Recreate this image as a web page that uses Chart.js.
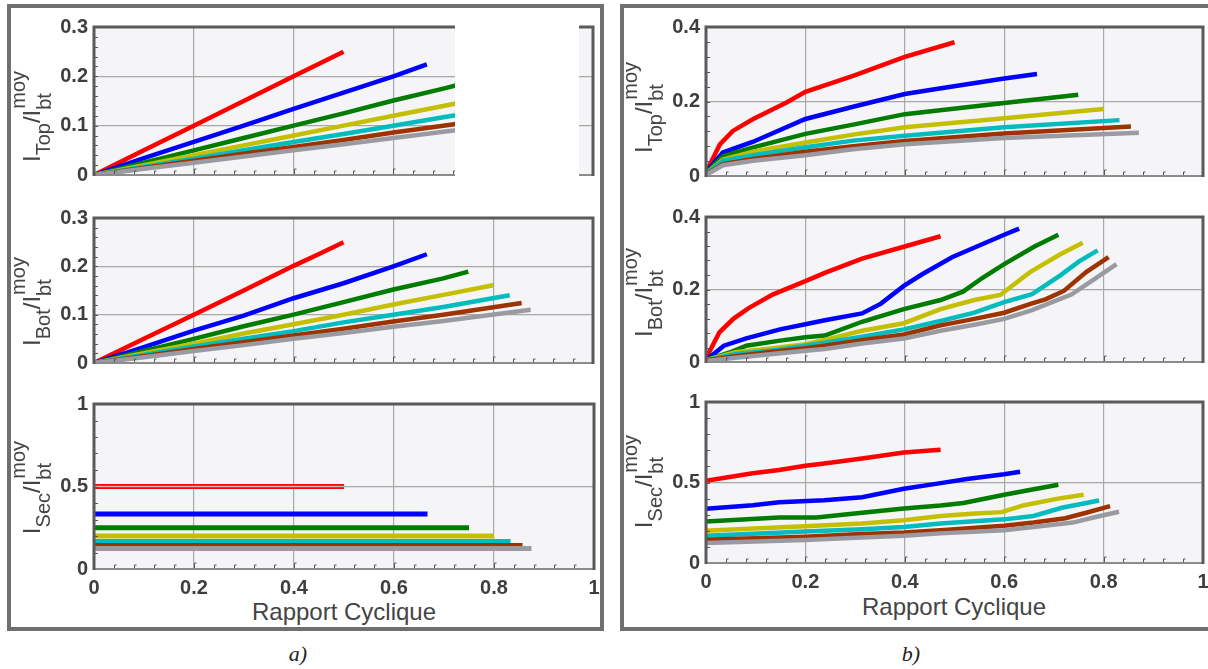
<!DOCTYPE html>
<html><head><meta charset="utf-8">
<script src="https://cdn.jsdelivr.net/npm/chart.js@4.4.1/dist/chart.umd.min.js"></script>
<style>
html,body{margin:0;padding:0;background:#fff;}
#page{position:relative;width:1208px;height:669px;overflow:hidden;background:#fff;}
canvas{position:absolute;}
.frame{position:absolute;border:4px solid #6f6f6f;box-sizing:border-box;}
.xt{position:absolute;font-family:'Liberation Sans',Arial,sans-serif;font-size:24px;color:#444;white-space:nowrap;transform:translateX(-50%);line-height:28px;}
.cap{position:absolute;font-family:'Liberation Serif','Times New Roman',serif;font-style:italic;font-size:22px;color:#222;transform:translateX(-50%);line-height:26px;}
</style></head>
<body><div id="page">
<div class="frame" style="left:7px;top:4px;width:597px;height:627px"></div>
<div class="frame" style="left:620px;top:4px;width:620px;height:627px"></div>
<div class="xt" style="left:344px;top:598px">Rapport Cyclique</div>
<div class="xt" style="left:954px;top:593px">Rapport Cyclique</div>
<div class="cap" style="left:298px;top:641px">a)</div>
<div class="cap" style="left:911px;top:641px">b)</div>
</div>
<script>
// ---------- axis ticks ----------
const xTicks = [0, 0.2, 0.4, 0.6, 0.8, 1];
const yTicksTop = [0, 0.1, 0.2, 0.3];
const yTicksB = [0, 0.2, 0.4];
const yTicksSec = [0, 0.5, 1];

// ---------- a) I_Top ----------
const aTop_red    = [[0,0],[0.1,0.05],[0.2,0.1],[0.3,0.15],[0.4,0.2],[0.5,0.25]];
const aTop_blue   = [[0,0],[0.1,0.034],[0.2,0.067],[0.3,0.1],[0.4,0.134],[0.5,0.167],[0.6,0.2],[0.667,0.224]];
const aTop_green  = [[0,0],[0.1,0.025],[0.2,0.05],[0.3,0.075],[0.4,0.1],[0.5,0.125],[0.6,0.151],[0.7,0.175],[0.75,0.188]];
const aTop_yellow = [[0,0],[0.1,0.02],[0.2,0.04],[0.3,0.06],[0.4,0.08],[0.5,0.1],[0.6,0.12],[0.7,0.14],[0.8,0.16]];
const aTop_cyan   = [[0,0],[0.1,0.017],[0.2,0.033],[0.3,0.05],[0.4,0.067],[0.5,0.083],[0.6,0.1],[0.7,0.117],[0.833,0.139]];
const aTop_brown  = [[0,0],[0.1,0.014],[0.2,0.029],[0.3,0.043],[0.4,0.057],[0.5,0.071],[0.6,0.086],[0.7,0.1],[0.857,0.122]];
const aTop_gray   = [[0,0],[0.1,0.0125],[0.2,0.025],[0.3,0.0375],[0.4,0.05],[0.5,0.0625],[0.6,0.075],[0.7,0.0875],[0.875,0.109]];

// ---------- a) I_Bot ----------
const aBot_red    = [[0,0],[0.1,0.05],[0.2,0.1],[0.3,0.15],[0.4,0.201],[0.45,0.225],[0.5,0.25]];
const aBot_blue   = [[0,0],[0.1,0.033],[0.2,0.067],[0.3,0.098],[0.4,0.134],[0.5,0.165],[0.6,0.2],[0.667,0.225]];
const aBot_green  = [[0,0],[0.1,0.025],[0.2,0.05],[0.3,0.076],[0.4,0.1],[0.5,0.126],[0.6,0.152],[0.7,0.175],[0.75,0.189]];
const aBot_yellow = [[0,0],[0.1,0.02],[0.2,0.04],[0.3,0.061],[0.4,0.08],[0.5,0.1],[0.6,0.121],[0.7,0.141],[0.8,0.161]];
const aBot_cyan   = [[0,0],[0.1,0.017],[0.2,0.034],[0.3,0.05],[0.4,0.066],[0.5,0.084],[0.6,0.1],[0.7,0.116],[0.833,0.14]];
const aBot_brown  = [[0,0],[0.1,0.014],[0.2,0.029],[0.3,0.043],[0.4,0.057],[0.5,0.071],[0.6,0.086],[0.7,0.1],[0.857,0.124]];
const aBot_gray   = [[0,0],[0.1,0.012],[0.2,0.025],[0.3,0.037],[0.4,0.05],[0.5,0.062],[0.6,0.075],[0.7,0.087],[0.875,0.11]];

// ---------- a) I_Sec ----------
const aSec_red    = [[0,0.5],[0.5,0.5]];
const aSec_blue   = [[0,0.333],[0.667,0.333]];
const aSec_green  = [[0,0.25],[0.75,0.25]];
const aSec_yellow = [[0,0.2],[0.8,0.2]];
const aSec_cyan   = [[0,0.167],[0.833,0.167]];
const aSec_brown  = [[0,0.143],[0.857,0.143]];
const aSec_gray   = [[0,0.125],[0.875,0.125]];

// ---------- b) I_Top ----------
const bTop_red    = [[0,0.01],[0.028,0.085],[0.054,0.121],[0.095,0.153],[0.163,0.198],[0.2,0.226],[0.296,0.269],[0.4,0.32],[0.5,0.359]];
const bTop_blue   = [[0,0.01],[0.034,0.063],[0.095,0.092],[0.2,0.153],[0.296,0.186],[0.4,0.22],[0.457,0.232],[0.6,0.262],[0.666,0.274]];
const bTop_green  = [[0,0.008],[0.034,0.053],[0.095,0.077],[0.2,0.113],[0.296,0.138],[0.4,0.166],[0.6,0.196],[0.749,0.218]];
const bTop_yellow = [[0,0.006],[0.034,0.044],[0.095,0.065],[0.2,0.09],[0.296,0.111],[0.4,0.131],[0.6,0.155],[0.8,0.18]];
const bTop_cyan   = [[0,0.005],[0.034,0.041],[0.095,0.056],[0.2,0.077],[0.296,0.095],[0.4,0.108],[0.6,0.131],[0.832,0.15]];
const bTop_brown  = [[0,0.004],[0.034,0.032],[0.095,0.046],[0.2,0.065],[0.296,0.08],[0.4,0.094],[0.6,0.114],[0.855,0.133]];
const bTop_gray   = [[0,0.003],[0.034,0.029],[0.095,0.041],[0.2,0.056],[0.296,0.072],[0.4,0.085],[0.6,0.102],[0.871,0.116]];

// ---------- b) I_Bot ----------
const bBot_red    = [[0,0.01],[0.027,0.082],[0.055,0.119],[0.085,0.148],[0.134,0.186],[0.2,0.223],[0.239,0.246],[0.314,0.285],[0.398,0.318],[0.472,0.347]];
const bBot_blue   = [[0,0.005],[0.036,0.045],[0.081,0.065],[0.149,0.09],[0.2,0.104],[0.239,0.115],[0.314,0.134],[0.352,0.161],[0.398,0.21],[0.435,0.242],[0.495,0.289],[0.6,0.351],[0.63,0.368]];
const bBot_green  = [[0,0.005],[0.051,0.028],[0.081,0.045],[0.149,0.059],[0.2,0.068],[0.239,0.073],[0.314,0.111],[0.398,0.146],[0.472,0.171],[0.517,0.194],[0.555,0.231],[0.6,0.27],[0.66,0.318],[0.709,0.351]];
const bBot_yellow = [[0,0.005],[0.059,0.027],[0.134,0.038],[0.2,0.049],[0.239,0.061],[0.314,0.086],[0.398,0.107],[0.472,0.146],[0.54,0.171],[0.592,0.185],[0.652,0.248],[0.713,0.297],[0.758,0.329]];
const bBot_cyan   = [[0,0.005],[0.059,0.022],[0.134,0.032],[0.2,0.045],[0.239,0.053],[0.314,0.07],[0.398,0.09],[0.472,0.113],[0.54,0.136],[0.6,0.165],[0.656,0.187],[0.713,0.239],[0.75,0.277],[0.788,0.308]];
const bBot_brown  = [[0,0.005],[0.059,0.016],[0.134,0.028],[0.2,0.038],[0.239,0.045],[0.314,0.06],[0.398,0.076],[0.472,0.101],[0.54,0.119],[0.6,0.136],[0.656,0.162],[0.683,0.173],[0.72,0.196],[0.765,0.248],[0.81,0.289]];
const bBot_gray   = [[0,0.003],[0.059,0.012],[0.134,0.022],[0.2,0.031],[0.239,0.036],[0.314,0.051],[0.398,0.065],[0.472,0.086],[0.54,0.103],[0.6,0.119],[0.656,0.143],[0.735,0.186],[0.78,0.227],[0.826,0.27]];

// ---------- b) I_Sec ----------
const bSec_red    = [[0,0.51],[0.094,0.557],[0.147,0.578],[0.2,0.604],[0.238,0.618],[0.314,0.649],[0.398,0.686],[0.472,0.704]];
const bSec_blue   = [[0,0.337],[0.094,0.359],[0.147,0.378],[0.238,0.39],[0.314,0.408],[0.398,0.461],[0.472,0.496],[0.525,0.522],[0.6,0.551],[0.632,0.567]];
const bSec_green  = [[0,0.257],[0.147,0.282],[0.222,0.282],[0.314,0.312],[0.398,0.339],[0.472,0.357],[0.518,0.373],[0.6,0.424],[0.654,0.455],[0.709,0.486]];
const bSec_yellow = [[0,0.2],[0.096,0.214],[0.2,0.229],[0.314,0.245],[0.398,0.265],[0.472,0.292],[0.542,0.308],[0.595,0.316],[0.64,0.359],[0.708,0.4],[0.76,0.424]];
const bSec_cyan   = [[0,0.169],[0.2,0.196],[0.314,0.21],[0.398,0.224],[0.472,0.245],[0.6,0.271],[0.659,0.292],[0.716,0.343],[0.791,0.388]];
const bSec_brown  = [[0,0.145],[0.2,0.163],[0.314,0.18],[0.398,0.19],[0.472,0.204],[0.6,0.231],[0.659,0.251],[0.723,0.278],[0.765,0.312],[0.813,0.353]];
const bSec_gray   = [[0,0.124],[0.2,0.143],[0.314,0.159],[0.398,0.169],[0.472,0.184],[0.6,0.204],[0.659,0.224],[0.738,0.251],[0.784,0.286],[0.831,0.318]];

// ---------- styling ----------
const COLORS = ['#ff0000','#0000ff','#007c00','#c4bf00','#00bcbc','#9c3300','#9a9aa2'];
const TICKFONT = {family:"'Liberation Sans', Arial, sans-serif", size:20, weight:'bold'};
const TICKCOLOR = '#3e3e3e';
const page = document.getElementById('page');
const fmt = v => String(Math.round(v*10)/10);

function drawYLabel(ctx, sub, bx, cy) {
  const big = "24px 'Liberation Sans', Arial, sans-serif";
  const small = "20px 'Liberation Sans', Arial, sans-serif";
  ctx.save();
  ctx.fillStyle = '#444';
  ctx.textBaseline = 'alphabetic';
  ctx.textAlign = 'left';
  ctx.font = big; const wI = ctx.measureText('I').width; const wSl = ctx.measureText('/I').width;
  ctx.font = small; const wSub = ctx.measureText(sub).width; const wMoy = ctx.measureText('moy').width; const wBt = ctx.measureText('bt').width;
  const total = wI + wSub + wSl + Math.max(wMoy, wBt);
  ctx.translate(bx, cy);
  ctx.rotate(-Math.PI/2);
  let x = -total/2;
  ctx.font = big; ctx.fillText('I', x, 0); x += wI;
  ctx.font = small; ctx.fillText(sub, x, 10); x += wSub;
  ctx.font = big; ctx.fillText('/I', x, 0); x += wSl;
  ctx.font = small; ctx.fillText('bt', x, 11); ctx.fillText('moy', x + 1, -15);
  ctx.restore();
}

function makePlot(cfg) {
  const ML = 100, MT = 16, MR = 16, PB = 4;
  const XH = cfg.xLabels ? 40 : 0;
  const pw = cfg.right - cfg.left, ph = cfg.bottom - cfg.top;
  const canvas = document.createElement('canvas');
  canvas.width = ML + pw + MR; canvas.height = MT + ph + XH + PB;
  canvas.style.left = (cfg.left - ML) + 'px'; canvas.style.top = (cfg.top - MT) + 'px';
  canvas.style.width = canvas.width + 'px'; canvas.style.height = canvas.height + 'px';
  page.appendChild(canvas);
  const datasets = cfg.series.map((pts, i) => ({
    data: pts.map(p => ({x:p[0], y:p[1]})),
    borderColor: COLORS[i], borderWidth: cfg.lw || 4.5, pointRadius: 0, fill: false, tension: 0, order: 20 - i
  }));
  if (cfg.doubleRed) {
    datasets.push({data: cfg.series[0].map(p => ({x:p[0], y:p[1]})), borderColor:'#c9b3b3', borderWidth:1.5, pointRadius:0, fill:false, order:0});
  }
  const deco = {
    id: 'deco',
    beforeDraw(chart) {
      const a = chart.chartArea, c = chart.ctx;
      c.save(); c.fillStyle = '#f5f5f8'; c.fillRect(a.left, a.top, a.right - a.left, a.bottom - a.top); c.restore();
    },
    afterDraw(chart) {
      const a = chart.chartArea, c = chart.ctx, xs = chart.scales.x, ys = chart.scales.y;
      c.save();
      // minor ticks
      c.strokeStyle = '#555'; c.lineWidth = 1;
      for (let k = 1; k < 25; k++) {
        const px = Math.round(xs.getPixelForValue(k * 0.04)) + 0.5;
        const len = (k % 5 === 0) ? 6 : 4;
        c.beginPath(); c.moveTo(px, a.bottom); c.lineTo(px, a.bottom - len); c.lineTo(px + 2, a.bottom - len); c.stroke();
      }
      const nMinor = Math.round(cfg.yMax / cfg.yMinor);
      for (let k = 1; k < nMinor; k++) {
        const py = Math.round(ys.getPixelForValue(k * cfg.yMinor)) + 0.5;
        c.beginPath(); c.moveTo(a.left, py); c.lineTo(a.left + 4, py); c.stroke();
      }
      // frame
      c.strokeStyle = '#8c8c8c'; c.lineWidth = 2;
      c.beginPath(); c.moveTo(a.left, a.bottom); c.lineTo(a.right, a.bottom); c.stroke();
      c.strokeStyle = '#5a5a5a'; c.lineWidth = 3;
      c.beginPath(); c.moveTo(a.left, a.bottom + 1); c.lineTo(a.left, a.top); c.lineTo(a.right, a.top); c.lineTo(a.right, a.bottom + 1); c.stroke();
      if (cfg.whiteBox) {
        const x1 = xs.getPixelForValue(cfg.whiteBox[0]), x2 = xs.getPixelForValue(cfg.whiteBox[1]);
        c.fillStyle = '#ffffff';
        c.fillRect(x1, a.top - 4, x2 - x1, a.bottom - a.top + 8);
      }
      c.restore();
      drawYLabel(c, cfg.sub, a.left - 54.5, cfg.labelCY - cfg.top + MT);
    }
  };
  new Chart(canvas, {
    type: 'line',
    data: {datasets},
    options: {
      responsive: false, animation: false, devicePixelRatio: 1,
      layout: {padding: {left: 0, top: MT, right: MR, bottom: PB}},
      plugins: {legend: {display: false}, tooltip: {enabled: false}},
      scales: {
        x: {type: 'linear', min: 0, max: 1,
            afterBuildTicks: s => { s.ticks = xTicks.map(v => ({value: v})); },
            ticks: {display: !!cfg.xLabels, font: TICKFONT, color: TICKCOLOR, padding: 7, maxRotation: 0, autoSkip: false, callback: fmt},
            grid: {color: '#a8a8a8', lineWidth: 1.2, drawTicks: false},
            border: {display: false},
            afterFit: s => { s.height = XH; }},
        y: {type: 'linear', min: 0, max: cfg.yMax,
            afterBuildTicks: s => { s.ticks = cfg.yTicks.map(v => ({value: v})); },
            ticks: {font: TICKFONT, color: TICKCOLOR, padding: 6, callback: fmt},
            grid: {color: '#a8a8a8', lineWidth: 1.2, drawTicks: false},
            border: {display: false},
            afterFit: s => { s.width = ML; }}
      }
    },
    plugins: [deco]
  });
}

makePlot({left:94, right:593, top:25, bottom:189, yMax:0.3, yTicks:yTicksTop, yMinor:0.02, sub:'Top', labelCY:117,
  series:[aTop_red,aTop_blue,aTop_green,aTop_yellow,aTop_cyan,aTop_brown,aTop_gray], whiteBox:[0.7234,0.972]});
makePlot({left:94, right:593, top:216, bottom:377, yMax:0.3, yTicks:yTicksTop, yMinor:0.02, sub:'Bot', labelCY:302,
  series:[aBot_red,aBot_blue,aBot_green,aBot_yellow,aBot_cyan,aBot_brown,aBot_gray]});
makePlot({left:94, right:594, top:402, bottom:569, yMax:1, yTicks:yTicksSec, yMinor:0.1, sub:'Sec', labelCY:488, xLabels:true, lw:5, doubleRed:true,
  series:[aSec_red,aSec_blue,aSec_green,aSec_yellow,aSec_cyan,aSec_brown,aSec_gray]});
makePlot({left:706, right:1203, top:25, bottom:190, yMax:0.4, yTicks:yTicksB, yMinor:0.04, sub:'Top', labelCY:108,
  series:[bTop_red,bTop_blue,bTop_green,bTop_yellow,bTop_cyan,bTop_brown,bTop_gray]});
makePlot({left:706, right:1203, top:215, bottom:376, yMax:0.4, yTicks:yTicksB, yMinor:0.04, sub:'Bot', labelCY:293,
  series:[bBot_red,bBot_blue,bBot_green,bBot_yellow,bBot_cyan,bBot_brown,bBot_gray]});
makePlot({left:706, right:1203, top:400, bottom:563, yMax:1, yTicks:yTicksSec, yMinor:0.1, sub:'Sec', labelCY:482, xLabels:true,
  series:[bSec_red,bSec_blue,bSec_green,bSec_yellow,bSec_cyan,bSec_brown,bSec_gray]});
</script>
</body></html>
